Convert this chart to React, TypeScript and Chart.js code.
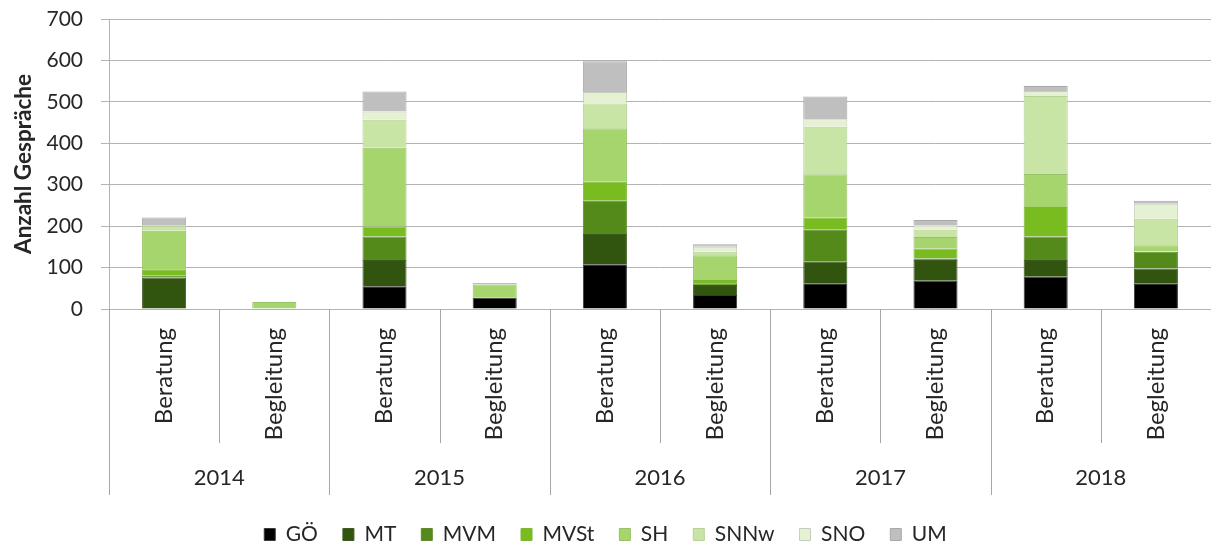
import { useEffect, useRef } from "react";
import { Chart, registerables } from "chart.js";

Chart.register(...registerables);

const categories = [
  "Beratung", "Begleitung",
  "Beratung", "Begleitung",
  "Beratung", "Begleitung",
  "Beratung", "Begleitung",
  "Beratung", "Begleitung",
];
const years = ["2014", "2015", "2016", "2017", "2018"];

const seriesNames = ["GÖ", "MT", "MVM", "MVSt", "SH", "SNNw", "SNO", "UM"];
const valuesGO = [0, 0, 55, 27, 108, 34, 62, 68, 78, 62];
const valuesMT = [76, 0, 63, 0, 73, 24, 52, 50, 40, 36];
const valuesMVM = [4, 0, 57, 0, 80, 4, 77, 4, 57, 40];
const valuesMVSt = [16, 0, 24, 0, 46, 8, 29, 24, 71, 1];
const valuesSH = [93, 17, 190, 32, 129, 60, 105, 28, 80, 15];
const valuesSNNw = [12, 0, 68, 0, 60, 8, 115, 17, 188, 64];
const valuesSNO = [0, 0, 20, 0, 28, 12, 18, 11, 12, 36];
const valuesUM = [20, 0, 48, 4, 74, 6, 55, 13, 12, 7];

const yTicks = [0, 100, 200, 300, 400, 500, 600, 700];

const fillColors = ["#000000", "#31540f", "#548a19", "#78bc1f", "#a6d46d", "#c9e5a5", "#e4f2d3", "#bfbfbf"];
const borderColors = ["#3a3a3a", "#3d5a22", "#5f8a30", "#7fb535", "#98c267", "#b7cf98", "#c5cdbd", "#a8a8a8"];

const FONT = "Lato, 'Open Sans', sans-serif";
const TEXT = "#262626";
const GRID = "#b3b3b3";

const groupAxisPlugin = {
  id: "groupAxis",
  afterDraw(chart: any) {
    const x = chart.scales.x;
    const bottom = chart.chartArea.bottom;
    const ctx = chart.ctx;
    const n = categories.length;
    const half = (x.getPixelForValue(1) - x.getPixelForValue(0)) / 2;
    ctx.save();
    ctx.strokeStyle = "#a6a6a6";
    ctx.lineWidth = 1;
    for (let k = 0; k < n; k++) {
      const bx = Math.round(x.getPixelForValue(k) - half) + 0.5;
      const len = k % 2 === 0 ? 186 : 134;
      ctx.beginPath();
      ctx.moveTo(bx, bottom);
      ctx.lineTo(bx, bottom + len);
      ctx.stroke();
    }
    ctx.fillStyle = TEXT;
    ctx.font = `22px ${FONT}`;
    ctx.textAlign = "center";
    ctx.textBaseline = "middle";
    years.forEach((yr, i) => {
      const cx = (x.getPixelForValue(2 * i) + x.getPixelForValue(2 * i + 1)) / 2;
      ctx.fillText(yr, cx, bottom + 169);
    });
    ctx.restore();
  },
};

export default function App() {
  const ref = useRef<HTMLCanvasElement | null>(null);

  useEffect(() => {
    if (!ref.current) return;
    const series = [valuesGO, valuesMT, valuesMVM, valuesMVSt, valuesSH, valuesSNNw, valuesSNO, valuesUM];
    const chart = new Chart(ref.current, {
      type: "bar",
      data: {
        labels: categories,
        datasets: series.map((vals, i) => ({
          label: seriesNames[i],
          data: vals.map((v) => (v === 0 ? null : v)),
          backgroundColor: fillColors[i],
          borderColor: borderColors[i],
          borderWidth: 1,
          barPercentage: 0.4,
          categoryPercentage: 1,
        })),
      },
      options: {
        animation: false,
        responsive: false,
        maintainAspectRatio: false,
        layout: { padding: { left: 0, right: 0, top: 19, bottom: -8 } },
        plugins: {
          tooltip: { enabled: false },
          legend: {
            position: "bottom",
            labels: {
              font: { family: FONT, size: 21 },
              color: TEXT,
              boxWidth: 11,
              boxHeight: 12,
              padding: 25,
            },
          },
        },
        scales: {
          x: {
            stacked: true,
            offset: true,
            grid: { display: false, drawTicks: false },
            border: { display: false },
            ticks: {
              autoSkip: false,
              maxRotation: 90,
              minRotation: 90,
              padding: 19,
              color: TEXT,
              font: { family: FONT, size: 24 },
            },
            afterFit: (scale: any) => {
              scale.height = 190;
            },
          },
          y: {
            stacked: true,
            min: 0,
            max: 700,
            afterBuildTicks: (scale: any) => {
              scale.ticks = yTicks.map((v) => ({ value: v }));
            },
            grid: { color: GRID, tickLength: 8, lineWidth: 1 },
            border: { display: true, color: GRID },
            ticks: {
              padding: 18,
              color: TEXT,
              font: { family: FONT, size: 21 },
            },
            title: {
              display: true,
              text: "Anzahl Gespräche",
              color: TEXT,
              font: { family: FONT, size: 22.5, weight: "bold" },
              padding: { top: 10, bottom: 0 },
            },
            afterFit: (scale: any) => {
              scale.width = 109;
              scale.paddingTop = 0;
              scale.paddingBottom = 0;
            },
          },
        },
      },
      plugins: [groupAxisPlugin],
    });
    return () => chart.destroy();
  }, []);

  return (
    <div style={{ position: "fixed", left: 0, top: 0, width: 1211, height: 547, background: "#fff" }}>
      <canvas ref={ref} width={1211} height={547} style={{ display: "block" }} />
    </div>
  );
}
